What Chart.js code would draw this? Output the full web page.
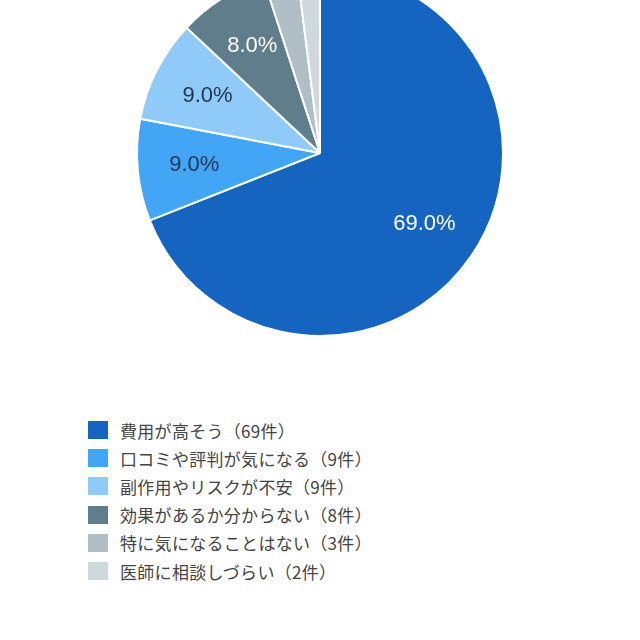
<!DOCTYPE html>
<html lang="ja">
<head>
<meta charset="utf-8">
<script src="https://cdn.jsdelivr.net/npm/chart.js@4/dist/chart.umd.min.js"></script>
<style>
  html, body { margin: 0; padding: 0; background: #fff; }
  #page { position: relative; width: 640px; height: 640px; overflow: hidden; }
  #chartBox { position: absolute; left: 0; top: -31px; width: 640px; height: 368px; }
  #legend { position: absolute; left: 88px; top: 416px; margin: 0; padding: 0; list-style: none;
    font-family: "Noto Sans CJK JP", sans-serif; font-size: 17px; letter-spacing: 0.3px; color: #444; }
  #legend li { display: flex; align-items: center; height: 28.2px; }
  #legend span.box { display: inline-block; width: 20px; height: 18px; margin-right: 12px; }
</style>
</head>
<body>
<div id="page">
  <div id="chartBox"><canvas id="chart"></canvas></div>
  <ul id="legend"></ul>
</div>
<script>
const labels = [
    "費用が高そう（69件）",
    "口コミや評判が気になる（9件）",
    "副作用やリスクが不安（9件）",
    "効果があるか分からない（8件）",
    "特に気になることはない（3件）",
    "医師に相談しづらい（2件）",
];
const counts = [69, 9, 9, 8, 3, 2];
const colors = ["#1565C0", "#42A5F5", "#90CAF9", "#607D8B", "#B0BEC5", "#CFD8DC"];
const labelColors = ["#ffffff", "#1d3550", "#1d3550", "#ffffff", "#1d3550", "#1d3550"];

// draws the percentage inside each big enough slice
const percentLabels = {
    id: "percentLabels",
    afterDatasetsDraw(chart) {
        const ctx = chart.ctx;
        const data = chart.data.datasets[0].data;
        const total = data.reduce((a, b) => a + b, 0);
        chart.getDatasetMeta(0).data.forEach((arc, i) => {
            const pct = data[i] / total * 100;
            if (pct < 5) return;
            const mid = (arc.startAngle + arc.endAngle) / 2;
            const r = arc.outerRadius * 0.69;
            ctx.save();
            ctx.font = "22px 'Liberation Sans', sans-serif";
            ctx.fillStyle = labelColors[i];
            ctx.textAlign = "center";
            ctx.textBaseline = "middle";
            ctx.fillText(pct.toFixed(1) + "%", arc.x + Math.cos(mid) * r, arc.y + Math.sin(mid) * r);
            ctx.restore();
        });
    },
};

const ctx = document.getElementById("chart").getContext("2d");
const myChart = new Chart(ctx, {
    type: "pie",
    data: {
        labels: labels,
        datasets: [
            {
                data: counts,
                backgroundColor: colors,
                borderColor: "#ffffff",
                borderWidth: 2,
            },
        ],
    },
    options: {
        responsive: true,
        maintainAspectRatio: false,
        animation: false,
        layout: { padding: 0 },
        plugins: {
            legend: { display: false },
            tooltip: { enabled: false },
        },
    },
    plugins: [percentLabels],
});

const legend = document.getElementById("legend");
myChart.data.labels.forEach((text, i) => {
    const li = document.createElement("li");
    const box = document.createElement("span");
    box.className = "box";
    box.style.background = colors[i];
    li.appendChild(box);
    li.appendChild(document.createTextNode(text));
    legend.appendChild(li);
});
</script>
</body>
</html>
